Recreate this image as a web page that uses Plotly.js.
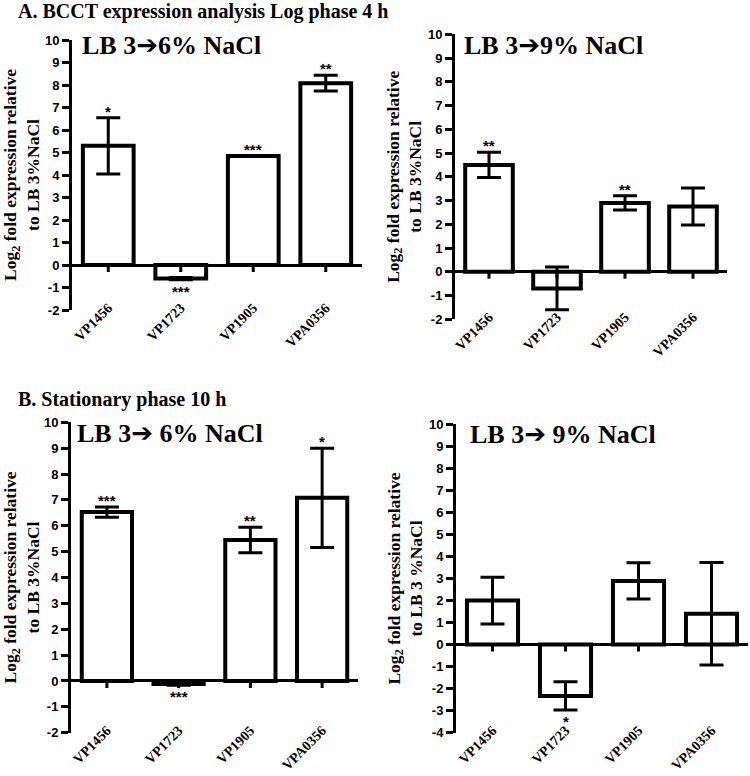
<!DOCTYPE html>
<html>
<head>
<meta charset="utf-8">
<script src="https://cdn.plot.ly/plotly-3.0.1.min.js"></script>
<style>html,body{margin:0;padding:0;background:#fff;}#chart{width:750px;height:776px;}</style>
</head>
<body>
<div id="chart"></div>
<script>
// ---- data ----
const genes = ["VP1456", "VP1723", "VP1905", "VPA0356"];

// A. Log phase 4 h, LB 3 -> 6% NaCl
const logP6_mean = [5.3, -0.6, 4.85, 8.08];
const logP6_err  = [1.25, 0.05, 0.0, 0.35];
const logP6_star = ["*", "***", "***", "**"];

// A. Log phase 4 h, LB 3 -> 9% NaCl
const logP9_mean = [4.5, -0.7, 2.9, 2.75];
const logP9_err  = [0.53, 0.9, 0.3, 0.78];
const logP9_star = ["**", "", "**", ""];

// B. Stationary phase 10 h, LB 3 -> 6% NaCl
const stat6_mean = [6.53, -0.12, 5.45, 7.08];
const stat6_err  = [0.2, 0.05, 0.49, 1.92];
const stat6_star = ["***", "***", "**", "*"];

// B. Stationary phase 10 h, LB 3 -> 9% NaCl
const stat9_mean = [2.0, -2.33, 2.89, 1.4];
const stat9_err  = [1.06, 0.64, 0.82, 2.33];
const stat9_star = ["", "*", "", ""];

// y tick values / labels (hyphen minus as in the original)
const yTickVals_A = [-2, -1, 0, 1, 2, 3, 4, 5, 6, 7, 8, 9, 10];
const yTickText_A = ["-2", "-1", "0", "1", "2", "3", "4", "5", "6", "7", "8", "9", "10"];
const yTickVals_B9 = [-4, -3, -2, -1, 0, 1, 2, 3, 4, 5, 6, 7, 8, 9, 10];
const yTickText_B9 = ["-4", "-3", "-2", "-1", "0", "1", "2", "3", "4", "5", "6", "7", "8", "9", "10"];

const ARROW = "<span style=\"font-family:'DejaVu Sans'\">\u2794</span>";
const panelLabels = ["LB 3" + ARROW + "6% NaCl", "LB 3" + ARROW + "9% NaCl", "LB 3" + ARROW + " 6% NaCl", "LB 3" + ARROW + " 9% NaCl"];
const yTitles = [
  "Log<sub>2</sub> fold expression relative<br>to LB 3%NaCl",
  "Log<sub>2</sub> fold expression relative<br>to LB 3%NaCl",
  "Log<sub>2</sub> fold expression relative<br>to LB 3%NaCl",
  "Log<sub>2</sub> fold expression relative<br>to LB 3 %NaCl"
];
const sectionTitles = ["A. BCCT expression analysis Log phase 4 h", "B. Stationary phase 10 h"];
const yRanges = [[-2, 10], [-2, 10], [-2, 10], [-4, 10]];
const yTicks = [
  [yTickVals_A, yTickText_A], [yTickVals_A, yTickText_A],
  [yTickVals_A, yTickText_A], [yTickVals_B9, yTickText_B9]
];

// ---- layout geometry (pixels) ----
const W = 750, H = 776;
const boxes = [
  {x0: 72, x1: 362, yTop: 40, yBot: 310, lbl: [80, 45]},
  {x0: 455, x1: 727, yTop: 34.3, yBot: 319.3, lbl: [462, 45]},
  {x0: 71, x1: 358, yTop: 422.3, yBot: 732.7, lbl: [75, 433]},
  {x0: 456, x1: 748, yTop: 424.3, yBot: 732.7, lbl: [468, 434]}
];

const series = [
  {m: logP6_mean, e: logP6_err, s: logP6_star},
  {m: logP9_mean, e: logP9_err, s: logP9_star},
  {m: stat6_mean, e: stat6_err, s: stat6_star},
  {m: stat9_mean, e: stat9_err, s: stat9_star}
];

const serif = "Liberation Serif, Times New Roman, serif";
const sans = "Liberation Sans, Arial, sans-serif";

const data = [];
const layout = {
  width: W, height: H,
  margin: {l: 0, r: 0, t: 0, b: 0},
  paper_bgcolor: "#fff", plot_bgcolor: "rgba(0,0,0,0)",
  showlegend: false,
  annotations: [], shapes: []
};

series.forEach((sr, k) => {
  const n = k + 1;
  const xa = n === 1 ? "x" : "x" + n;
  const ya = n === 1 ? "y" : "y" + n;
  data.push({
    type: "bar", x: genes, y: sr.m, xaxis: xa, yaxis: ya,
    width: 0.7,
    marker: {color: "#fff", line: {color: "#000", width: 4}},
    error_y: {type: "data", array: sr.e, visible: true, color: "#000", thickness: 3, width: 12},
    hoverinfo: "skip"
  });
  const b = boxes[k];
  layout["xaxis" + (n === 1 ? "" : n)] = {
    domain: [b.x0 / W, b.x1 / W], anchor: ya,
    range: [-0.5, 3.5], showline: false, ticks: "", showgrid: false, zeroline: false,
    tickangle: -45, ticklabelstandoff: -14,
    tickfont: {family: serif, size: 14, weight: 700, color: "#000"},
    fixedrange: true
  };
  layout["yaxis" + (n === 1 ? "" : n)] = {
    domain: [1 - b.yBot / H, 1 - b.yTop / H], anchor: xa,
    range: yRanges[k], tickmode: "array", tickvals: yTicks[k][0], ticktext: yTicks[k][1],
    showline: true, linewidth: 3, linecolor: "#000",
    ticks: "outside", ticklen: 7, tickwidth: 3, tickcolor: "#000",
    showgrid: false, zeroline: true, zerolinewidth: 3, zerolinecolor: "#000",
    tickfont: {family: sans, size: 13, weight: 700, color: "#000"},
    title: {text: yTitles[k], font: {family: serif, size: 17.5, weight: 700, color: "#000"}, standoff: 2},
    fixedrange: true
  };
  // small tick marks hanging from zero line at each category
  genes.forEach((g, i) => {
    layout.shapes.push({
      type: "line", xref: xa, yref: ya, ysizemode: "pixel", yanchor: 0,
      x0: i, x1: i, y0: 0, y1: -7, line: {color: "#000", width: 3}, layer: "above"
    });
    // significance stars
    if (sr.s[i]) {
      const neg = sr.m[i] < 0;
      layout.annotations.push({
        xref: xa, yref: ya, x: g,
        y: neg ? sr.m[i] - sr.e[i] : sr.m[i] + sr.e[i],
        yanchor: neg ? "top" : "bottom", yshift: neg ? -1 : -4,
        text: sr.s[i], showarrow: false,
        font: {family: sans, size: 15, weight: 700, color: "#000"}
      });
    }
  });
  // panel label
  layout.annotations.push({
    xref: "paper", yref: "paper", x: b.lbl[0] / W, y: 1 - b.lbl[1] / H,
    xanchor: "left", yanchor: "middle", showarrow: false,
    text: panelLabels[k], font: {family: serif, size: 26, weight: 700, color: "#000"}
  });
});

// section titles
layout.annotations.push({
  xref: "paper", yref: "paper", x: 16 / W, y: 1 - 12 / H, xanchor: "left", yanchor: "middle",
  showarrow: false, text: sectionTitles[0], font: {family: serif, size: 20, weight: 700, color: "#000"}
});
layout.annotations.push({
  xref: "paper", yref: "paper", x: 16 / W, y: 1 - 400 / H, xanchor: "left", yanchor: "middle",
  showarrow: false, text: sectionTitles[1], font: {family: serif, size: 20, weight: 700, color: "#000"}
});

Plotly.newPlot("chart", data, layout, {staticPlot: true});
</script>
</body>
</html>
